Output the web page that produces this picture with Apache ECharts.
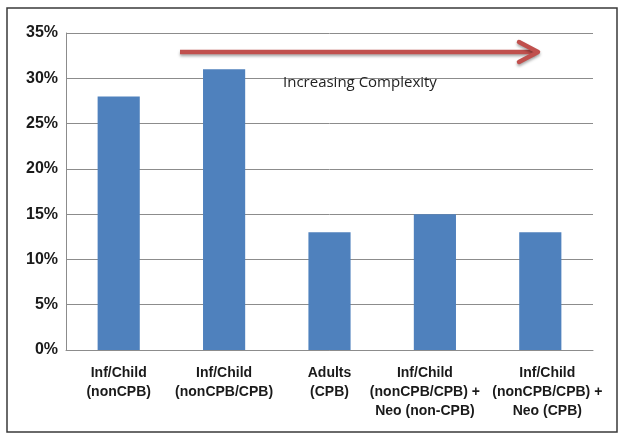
<!DOCTYPE html>
<html><head><meta charset="utf-8">
<script src="https://cdn.jsdelivr.net/npm/echarts@6/dist/echarts.min.js"></script>
<style>html,body{margin:0;padding:0;background:#fff}#c{width:624px;height:440px}</style>
</head><body><div id="c"></div>
<script>
const categories = ['Inf/Child\n(nonCPB)', 'Inf/Child\n(nonCPB/CPB)', 'Adults\n(CPB)', 'Inf/Child\n(nonCPB/CPB) +\nNeo (non-CPB)', 'Inf/Child\n(nonCPB/CPB) +\nNeo (CPB)'];
const values = [28, 31, 13, 15, 13];
const annotationText = 'Increasing Complexity';

const labelBase = { color: '#1a1a1a', fontFamily: 'Liberation Sans, Arial', fontWeight: 'bold', fontSize: 14, lineHeight: 19, align: 'center' };
const chart = echarts.init(document.getElementById('c'));
chart.setOption({
  animation: false,
  grid: { left: 66, right: 31, top: 33, bottom: 90 },
  xAxis: {
    type: 'category', data: categories,
    axisLine: { lineStyle: { color: '#8c8c8c', width: 1 } },
    axisTick: { show: false },
    axisLabel: {
      interval: 0, margin: 14,
      formatter: function (v, i) {
        const tag = i === 3 ? 'l' : (i === 4 ? 'r' : 'n');
        return v.split('\n').map(s => '{' + tag + '|' + s + '}').join('\n');
      },
      rich: {
        n: Object.assign({}, labelBase),
        l: Object.assign({}, labelBase, { padding: [0, 20, 0, 0] }),
        r: Object.assign({}, labelBase, { padding: [0, 0, 0, 14] })
      }
    }
  },
  yAxis: {
    type: 'value', min: 0, max: 35, interval: 5,
    axisLine: { show: true, lineStyle: { color: '#8c8c8c', width: 1 } },
    axisTick: { show: false },
    splitLine: { lineStyle: { color: '#8c8c8c', width: 1 } },
    axisLabel: { formatter: '{value}%', color: '#1a1a1a', fontFamily: 'Liberation Sans, Arial', fontWeight: 'bold', fontSize: 16, margin: 8 }
  },
  series: [{
    type: 'bar', data: values, barWidth: '40%',
    itemStyle: { color: '#4f81bd' }
  }],
  graphic: [
    { type: 'rect', shape: { x: 7, y: 8, width: 610, height: 424 }, style: { fill: 'none', stroke: '#3a3a3a', lineWidth: 1.5 }, z: 100 },
    { type: 'line', shape: { x1: 180, y1: 52, x2: 535, y2: 52 }, style: { stroke: '#c0504d', lineWidth: 4.5, shadowColor: 'rgba(0,0,0,0.35)', shadowBlur: 3, shadowOffsetY: 2 }, z: 50 },
    { type: 'polyline', shape: { points: [[519, 42], [538, 52], [519, 62]] }, style: { stroke: '#c0504d', lineWidth: 4.5, fill: 'none', lineCap: 'round', lineJoin: 'round', shadowColor: 'rgba(0,0,0,0.35)', shadowBlur: 3, shadowOffsetY: 2 }, z: 50 },
    { type: 'text', x: 283, y: 75, style: { text: annotationText, fill: '#222', font: '15px "Open Sans", "Liberation Sans", sans-serif' }, z: 50 }
  ]
});
</script></body></html>
